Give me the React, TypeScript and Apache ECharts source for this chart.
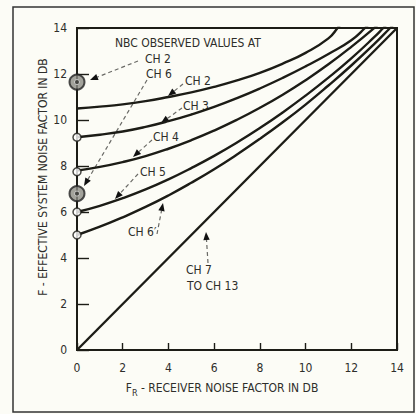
import React, { useEffect, useRef } from "react";
import * as echarts from "echarts";

// ---- data ----
const xTickLabels = ["0", "2", "4", "6", "8", "10", "12", "14"];
const yTickLabels = ["0", "2", "4", "6", "8", "10", "12", "14"];

// each curve is continued slightly past the top of the frame and clipped there
const ch2: [number, number][] = [
  [0, 10.5], [1, 10.58], [2, 10.68], [3, 10.82], [4, 11.0], [5, 11.2], [6, 11.44],
  [7, 11.72], [8, 12.05], [9, 12.45], [10, 12.92], [11, 13.55], [11.4, 14], [11.8, 14.5],
];
const ch3: [number, number][] = [
  [0, 9.25], [1, 9.36], [2, 9.5], [3, 9.7], [4, 9.95], [5, 10.24], [6, 10.57],
  [7, 10.95], [8, 11.37], [9, 11.83], [10, 12.33], [11, 12.87], [12, 13.47], [12.6, 14], [13.1, 14.5],
];
const ch4: [number, number][] = [
  [0, 7.8], [1, 7.96], [2, 8.17], [3, 8.43], [4, 8.75], [5, 9.12], [6, 9.54],
  [7, 10.01], [8, 10.53], [9, 11.1], [10, 11.73], [11, 12.42], [12, 13.18], [13, 14], [13.5, 14.45],
];
const ch5: [number, number][] = [
  [0, 6.0], [1, 6.27], [2, 6.6], [3, 6.98], [4, 7.42], [5, 7.91], [6, 8.44],
  [7, 9.02], [8, 9.65], [9, 10.33], [10, 11.06], [11, 11.84], [12, 12.68], [13, 13.6], [13.4, 14], [13.9, 14.5],
];
const ch6: [number, number][] = [
  [0, 5.0], [1, 5.36], [2, 5.77], [3, 6.22], [4, 6.72], [5, 7.27], [6, 7.86],
  [7, 8.5], [8, 9.18], [9, 9.9], [10, 10.67], [11, 11.5], [12, 12.37], [13, 13.3], [13.7, 14], [14.2, 14.5],
];
const ch7to13: [number, number][] = [[0, 0], [14, 14]];

const startPoints: [number, number][] = [[0, 9.25], [0, 7.75], [0, 6.0], [0, 5.0]];
const observedPoints: [number, number][] = [[0, 11.65], [0, 6.8]];

const FONT = "'DejaVu Sans Condensed','Liberation Sans Narrow','DejaVu Sans',sans-serif";
const INK = "#1c1c16";
const TXT = "#2e2e2a";

function arrow(x1: number, y1: number, x2: number, y2: number) {
  const dx = x2 - x1, dy = y2 - y1;
  const L = Math.sqrt(dx * dx + dy * dy);
  const ux = dx / L, uy = dy / L;
  const nx = -uy, ny = ux;
  const len = 8, hw = 3.2;
  const bx = x2 - ux * len, by = y2 - uy * len;
  return [
    {
      type: "line",
      shape: { x1, y1, x2: bx, y2: by },
      style: { stroke: "#6a6a66", lineWidth: 1.2, lineDash: [4, 3] },
      silent: true,
    },
    {
      type: "polygon",
      shape: { points: [[x2, y2], [bx + nx * hw, by + ny * hw], [bx - nx * hw, by - ny * hw]] },
      style: { fill: "#111" },
      silent: true,
    },
  ];
}

function label(text: string, x: number, y: number, size = 12) {
  return {
    type: "text",
    x,
    y,
    style: { text, fill: TXT, font: `${size}px ${FONT}`, verticalAlign: "middle" },
    silent: true,
  };
}

export default function App() {
  const ref = useRef<HTMLDivElement>(null);
  useEffect(() => {
    document.body.style.margin = "0";
    const chart = echarts.init(ref.current!, undefined, { renderer: "svg" });
    const curve = (name: string, data: [number, number][]) => ({
      name,
      type: "line",
      data,
      smooth: 0.5,
      clip: true,
      showSymbol: false,
      symbol: "none",
      lineStyle: { color: INK, width: 2.4 },
      z: 3,
    });
    chart.setOption({
      animation: false,
      backgroundColor: "#fcfcf6",
      grid: { left: 77, right: 19, top: 28, bottom: 64, show: true, borderColor: INK, borderWidth: 2 },
      xAxis: {
        type: "value",
        min: 0,
        max: 14,
        interval: 2,
        axisLine: { show: true, lineStyle: { color: INK, width: 2 } },
        axisTick: { show: true, inside: true, length: 7, lineStyle: { color: INK, width: 1.4 } },
        axisLabel: {
          color: TXT,
          fontFamily: FONT,
          fontSize: 12,
          margin: 12,
          formatter: (v: number) => xTickLabels[Math.round(v / 2)] ?? "",
        },
        splitLine: { show: false },
      },
      yAxis: {
        type: "value",
        min: 0,
        max: 14,
        interval: 2,
        axisLine: { show: true, lineStyle: { color: INK, width: 2 } },
        axisTick: { show: true, inside: true, length: 12, lineStyle: { color: INK, width: 1.4 } },
        axisLabel: {
          color: TXT,
          fontFamily: FONT,
          fontSize: 12,
          margin: 10,
          formatter: (v: number) => yTickLabels[Math.round(v / 2)] ?? "",
        },
        splitLine: { show: false },
      },
      series: [
        curve("CH 2", ch2),
        curve("CH 3", ch3),
        curve("CH 4", ch4),
        curve("CH 5", ch5),
        curve("CH 6", ch6),
        curve("CH 7 TO CH 13", ch7to13),
        {
          type: "scatter",
          data: startPoints,
          symbol: "circle",
          symbolSize: 8,
          itemStyle: { color: "#ffffff", borderColor: INK, borderWidth: 1.5 },
          z: 5,
        },
        {
          type: "scatter",
          data: observedPoints,
          symbol: "circle",
          symbolSize: 15,
          itemStyle: { color: "#8c8c86", borderColor: "#222", borderWidth: 2 },
          z: 5,
        },
        {
          type: "scatter",
          data: observedPoints,
          symbol: "circle",
          symbolSize: 5,
          itemStyle: { color: "#3a3a36", borderColor: "#ddd", borderWidth: 1 },
          z: 6,
        },
      ],
      graphic: [
        {
          type: "rect",
          shape: { x: 13, y: 7, width: 401, height: 405 },
          style: { fill: "none", stroke: "#333", lineWidth: 1.5 },
          silent: true,
          z: -1,
        },
        label("NBC OBSERVED VALUES AT", 115, 43),
        label("CH 2", 145, 59),
        label("CH 6", 146, 74),
        label("CH 2", 185, 81),
        label("CH 3", 183, 106),
        label("CH 4", 153, 137),
        label("CH 5", 140, 172),
        label("CH 6\u2032", 128, 232),
        label("CH 7", 186, 270),
        label("TO CH 13", 187, 286),
        ...arrow(138, 61, 90, 80),
        ...arrow(147, 80, 84, 186),
        ...arrow(183, 84, 168, 96),
        ...arrow(182, 108, 161, 123),
        ...arrow(152, 140, 133, 157),
        ...arrow(138, 174, 115, 199),
        ...arrow(157, 234, 163, 203),
        ...arrow(208, 263, 206, 232),
        {
          type: "text",
          x: 43,
          y: 177,
          rotation: Math.PI / 2,
          style: {
            text: "F - EFFECTIVE SYSTEM NOISE FACTOR IN DB",
            fill: TXT,
            font: `12px ${FONT}`,
            align: "center",
            verticalAlign: "middle",
          },
          silent: true,
        },
        {
          type: "text",
          x: 222,
          y: 388,
          style: {
            text: "{a|F}{b|R}{a| - RECEIVER NOISE FACTOR IN DB}",
            fill: TXT,
            align: "center",
            verticalAlign: "middle",
            rich: {
              a: { fontFamily: FONT, fontSize: 12, fill: TXT, lineHeight: 16 },
              b: { fontFamily: FONT, fontSize: 9, fill: TXT, lineHeight: 16, padding: [9, 0, 0, 0] },
            },
          },
          silent: true,
        },
      ],
    });
    return () => chart.dispose();
  }, []);
  return <div ref={ref} style={{ width: 416, height: 414 }} />;
}
